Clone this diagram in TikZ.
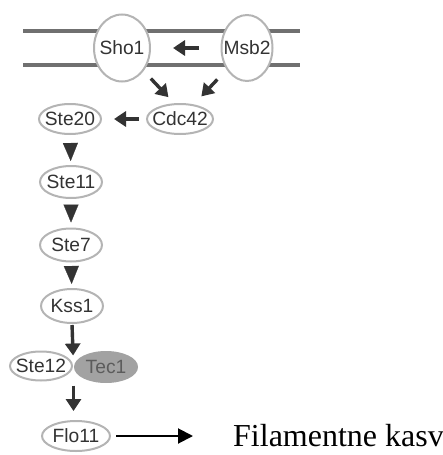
\documentclass[tikz,border=0pt]{standalone}
\usepackage{fontspec}
\setmainfont{Liberation Serif}
\newfontfamily\protfont{Liberation Sans}
\usetikzlibrary{arrows.meta,calc,shapes.geometric}
\definecolor{membrane}{HTML}{707070}
\definecolor{rim}{HTML}{B4B4B4}
\definecolor{ink}{HTML}{333333}
\definecolor{tecfill}{HTML}{A2A2A2}
% zero-width label so the ellipse keeps its given size
\newcommand\protlabel[1]{\makebox[0pt]{#1}}
\tikzset{
  prot/.style={ellipse, draw=rim, line width=2pt, fill=white, inner sep=0pt,
    text=ink, font=\protfont\fontsize{19.2}{21}\selectfont},
  tecnode/.style={prot, draw=tecfill, fill=tecfill, text=ink!80},
  membraneline/.style={draw=membrane, line width=4pt},
  darr/.style={draw=ink, line width=3.4pt, -{Triangle[length=12pt,width=15pt]}},
  headonly/.style={draw=ink, line width=0.2pt, -{Triangle[length=18pt,width=15pt]}},
  outarr/.style={draw=black, line width=2pt, -{Triangle[length=15pt,width=15pt]}}
}
\begin{document}
\begin{tikzpicture}[x=1pt,y=-1pt]
\useasboundingbox (0,0) rectangle (443,455);

% plasma membrane
\draw[membraneline] (23,31) -- (300,31);
\draw[membraneline] (23,65) -- (300,65);

% proteins
\node[prot, minimum width=56pt, minimum height=67pt] (sho1) at (122,48) {\protlabel{Sho1}};
\node[prot, minimum width=51pt, minimum height=66pt] (msb2) at (247,48) {\protlabel{Msb2}};
\node[prot, minimum width=66pt, minimum height=30pt] (cdc42) at (180,119) {\protlabel{Cdc42}};
\node[prot, minimum width=62pt, minimum height=30pt] (ste20) at (70,119) {\protlabel{Ste20}};
\node[prot, minimum width=62pt, minimum height=32pt] (ste11) at (71,182) {\protlabel{Ste11}};
\node[prot, minimum width=62pt, minimum height=33pt] (ste7) at (71,245) {\protlabel{Ste7}};
\node[prot, minimum width=62pt, minimum height=34pt] (kss1) at (72,306) {\protlabel{Kss1}};
\node[prot, minimum width=62pt, minimum height=29pt] (ste12) at (41,366) {\protlabel{Ste12}};
\node[tecnode, minimum width=62pt, minimum height=30pt] (tec1) at (106,367) {\protlabel{Tec1}};
\node[prot, minimum width=68pt, minimum height=30pt] (flo11) at (76,436) {\protlabel{Flo11}};
\node[anchor=west, inner sep=0pt, font=\fontsize{32}{36}\selectfont] (outcome) at (233,436) {Filamentne kasv};

\coordinate (complex) at ($(ste12.east)!0.5!(tec1.west)$);

% signalling arrows
\draw[darr, shorten <=21.5pt, shorten >=22pt] (msb2) -- (sho1);
\draw[darr, shorten <=10.5pt, shorten >=30pt] (sho1) -- ([xshift=9pt]cdc42.center);
\draw[darr, shorten <=13.5pt, shorten >=11pt] (msb2) -- (cdc42);
\draw[darr, shorten <=7pt, shorten >=12pt] (cdc42) -- (ste20);
\draw[headonly, shorten <=9pt, shorten >=4pt] (ste20) -- (ste11);
\draw[headonly, shorten <=7pt, shorten >=5pt] (ste11) -- (ste7);
\draw[headonly, shorten <=5pt, shorten >=4pt] (ste7) -- (kss1);
\draw[darr, shorten <=1pt, shorten >=11pt] (kss1.south) -- (complex);
\draw[darr, shorten <=19pt, shorten >=9pt] (complex) -- (complex |- flo11.north);
\draw[outarr, shorten <=5pt, shorten >=40pt] (flo11) -- (outcome);
\end{tikzpicture}
\end{document}
